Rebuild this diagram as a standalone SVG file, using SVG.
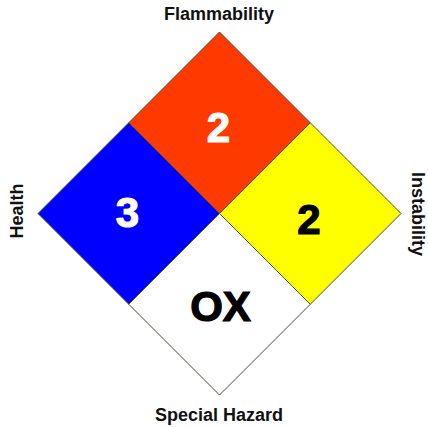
<svg xmlns="http://www.w3.org/2000/svg" width="428" height="427" viewBox="0 0 428 427">
<style>
.q{stroke:#4a4a3a;stroke-width:1;stroke-linejoin:miter}
.num{font-family:"Liberation Sans",Arial,sans-serif;font-weight:bold;font-size:42px;text-anchor:middle;stroke-width:1.2}
.w{fill:#fff;stroke:#fff}
.k{fill:#000;stroke:#000}
.lbl{font-family:"Liberation Sans",Arial,sans-serif;font-weight:bold;font-size:18px;text-anchor:middle;fill:#111}
</style>
<rect width="428" height="427" fill="#fff"/>
<g id="flammability">
<polygon class="q" fill="#ff3a00" points="219.5,32 310.25,122.75 219.5,213.5 128.75,122.75"/>
<text class="num w" x="218.5" y="142">2</text>
</g>
<g id="health">
<polygon class="q" fill="#0000ff" points="128.75,122.75 219.5,213.5 128.75,304.25 38,213.5"/>
<text class="num w" x="127.5" y="227">3</text>
</g>
<g id="instability">
<polygon class="q" fill="#ffff00" points="310.25,122.75 401,213.5 310.25,304.25 219.5,213.5"/>
<text class="num k" x="309" y="234">2</text>
</g>
<g id="special">
<polygon class="q" fill="#ffffff" points="219.5,213.5 310.25,304.25 219.5,395 128.75,304.25"/>
<text class="num k" x="220.5" y="321">OX</text>
</g>
<g id="labels">
<text class="lbl" x="219" y="20">Flammability</text>
<text class="lbl" x="219" y="421">Special Hazard</text>
<text class="lbl" transform="translate(23,211) rotate(-90)">Health</text>
<text class="lbl" transform="translate(412,214) rotate(90)">Instability</text>
</g>
</svg>
